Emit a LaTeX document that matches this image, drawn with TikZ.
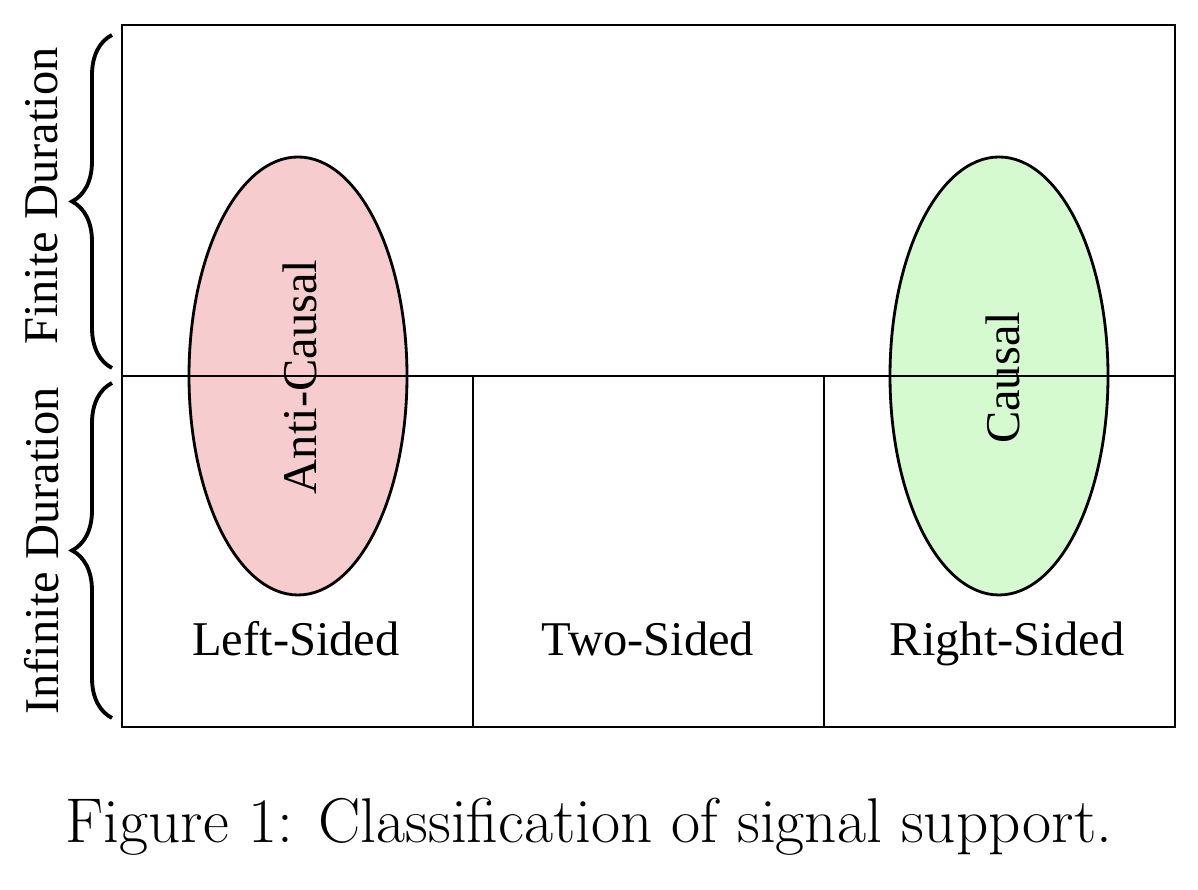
\documentclass[tikz,border=0pt]{standalone}
\usepackage{fontspec}
\newfontfamily\labelfont{Liberation Serif}
\usepackage{tikz}
\usetikzlibrary{positioning, decorations.pathreplacing}

\definecolor{anticol}{RGB}{246,204,206}
\definecolor{causcol}{RGB}{214,250,208}

\begin{document}
\begin{tikzpicture}[
        lbl/.style={font=\labelfont\fontsize{13.8}{16}\selectfont, inner sep=0pt},
        region/.style={line width=0.6pt},
        blob/.style={line width=0.8pt, draw=black},
        curly/.style={line width=1.1pt, decorate, decoration={brace, amplitude=0.4cm}}
        ]
        \useasboundingbox (0,0) rectangle (11.98,8.90);
        \coordinate (B0) at (1.22,1.63);
        \coordinate (B1) at (11.75,8.65);

        % ellipses go under the grid lines
        \draw[blob, fill=anticol] (2.98,5.14) ellipse (1.09cm and 2.19cm);
        \draw[blob, fill=causcol] (9.99,5.14) ellipse (1.09cm and 2.19cm);

        \draw[region] (B0) rectangle (B1);
        \coordinate (H0) at (1.22,5.14);
        \coordinate (H1) at (11.75,5.14);
        \draw[region] (H0) -- (H1);
        \foreach \x in {4.73,8.24}
        {
        \draw[region] (\x,1.63) -- (\x,5.14);
        }

        \node[lbl, rotate=90] (anti) at (3.00,5.13) {Anti-Causal};
        \node[lbl, rotate=90] (caus) at (10.03,5.12) {Causal};
        \node[lbl, anchor=base] (left) at (2.96,2.34) {Left-Sided};
        \node[lbl, anchor=base] (two) at (6.48,2.34) {Two-Sided};
        \node[lbl, anchor=base] (right) at (10.07,2.34) {Right-Sided};

        \coordinate (F0) at (1.12,5.22);
        \coordinate (F1) at (1.12,8.55);
        \coordinate (I0) at (1.12,1.72);
        \coordinate (I1) at (1.12,5.07);
        \draw[curly] (F0) -- (F1);
        \draw[curly] (I0) -- (I1);
        \node[lbl, rotate=90] (finite) at (0.42,6.94) {Finite Duration};
        \node[lbl, rotate=90] (infinite) at (0.42,3.39) {Infinite Duration};

        \node[font=\fontsize{18}{22}\selectfont, anchor=base] (cap) at (5.89,0.47) {Figure 1: Classification of signal support.};
\end{tikzpicture}
\end{document}
